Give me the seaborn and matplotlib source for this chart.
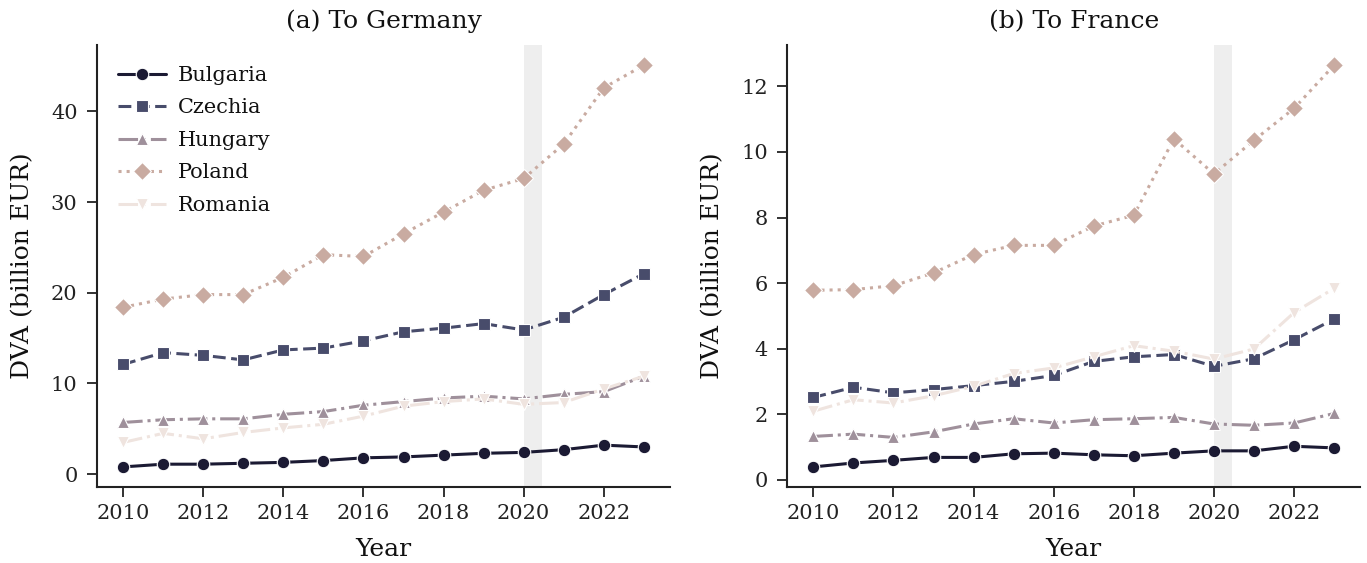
import numpy as np
import pandas as pd
import matplotlib
matplotlib.use("Agg")
import matplotlib.pyplot as plt
import seaborn as sns

years = list(range(2010, 2024))
countries = ["Bulgaria", "Czechia", "Hungary", "Poland", "Romania"]

# Domestic value added embodied in exports, billion EUR
de_bulgaria = [0.8, 1.1, 1.1, 1.2, 1.3, 1.5, 1.8, 1.9, 2.1, 2.3, 2.4, 2.7, 3.2, 3.0]
de_czechia = [12.1, 13.4, 13.1, 12.6, 13.7, 13.9, 14.7, 15.7, 16.1, 16.6, 15.9, 17.3, 19.8, 22.1]
de_hungary = [5.7, 6.0, 6.1, 6.1, 6.6, 6.9, 7.6, 8.0, 8.4, 8.6, 8.3, 8.8, 9.1, 10.8]
de_poland = [18.4, 19.3, 19.8, 19.8, 21.7, 24.2, 24.0, 26.5, 28.9, 31.3, 32.6, 36.4, 42.6, 45.1]
de_romania = [3.5, 4.5, 3.9, 4.6, 5.1, 5.5, 6.4, 7.5, 8.0, 8.3, 7.7, 7.9, 9.4, 10.8]

fr_bulgaria = [0.39, 0.51, 0.59, 0.68, 0.68, 0.79, 0.81, 0.76, 0.73, 0.81, 0.88, 0.88, 1.02, 0.97]
fr_czechia = [2.51, 2.82, 2.65, 2.75, 2.87, 3.00, 3.18, 3.61, 3.75, 3.82, 3.46, 3.69, 4.27, 4.90]
fr_hungary = [1.32, 1.39, 1.29, 1.46, 1.70, 1.86, 1.73, 1.83, 1.86, 1.90, 1.70, 1.66, 1.73, 2.02]
fr_poland = [5.78, 5.80, 5.92, 6.31, 6.87, 7.15, 7.15, 7.74, 8.07, 10.40, 9.33, 10.36, 11.33, 12.65]
fr_romania = [2.09, 2.44, 2.34, 2.56, 2.85, 3.24, 3.41, 3.75, 4.09, 3.92, 3.68, 3.99, 5.10, 5.84]

panel_titles = ["(a) To Germany", "(b) To France"]
xtick_values = [2010, 2012, 2014, 2016, 2018, 2020, 2022]


def to_long(series):
    frames = []
    for name, vals in zip(countries, series):
        frames.append(pd.DataFrame({"Year": years, "DVA": vals, "Country": name}))
    return pd.concat(frames, ignore_index=True)


df_de = to_long([de_bulgaria, de_czechia, de_hungary, de_poland, de_romania])
df_fr = to_long([fr_bulgaria, fr_czechia, fr_hungary, fr_poland, fr_romania])

sns.set_theme(style="ticks")
plt.rcParams["font.family"] = ["DejaVu Serif"]
plt.rcParams.update({
    "text.color": "#111111",
    "axes.labelcolor": "#111111",
    "xtick.color": "#222222",
    "ytick.color": "#222222",
    "axes.edgecolor": "#222222",
})

palette = {
    "Bulgaria": "#1b1a33",
    "Czechia": "#484c6b",
    "Hungary": "#9f909b",
    "Poland": "#c9aba1",
    "Romania": "#efe4df",
}
markers = {"Bulgaria": "o", "Czechia": "s", "Hungary": "^", "Poland": "D", "Romania": "v"}
dashes = {
    "Bulgaria": "",
    "Czechia": (4.2, 1.8),
    "Hungary": (6.4, 1.6, 1, 1.6),
    "Poland": (1, 1.65),
    "Romania": (6.4, 1.6, 1, 1.6),
}

fig, axes = plt.subplots(1, 2, figsize=(13.67, 5.63), dpi=100)

for ax, df, title, show_legend in zip(axes, [df_de, df_fr], panel_titles, [True, False]):
    ax.axvspan(2020, 2020.45, color="#eeeeee", lw=0, zorder=0)
    sns.lineplot(
        data=df, x="Year", y="DVA", hue="Country", style="Country",
        palette=palette, markers=markers, dashes=dashes,
        linewidth=2.2, markersize=9, markeredgewidth=0.8, markeredgecolor="white",
        ax=ax, legend=show_legend,
    )
    ax.set_title(title, fontsize=18, pad=12)
    ax.set_xlabel("Year", fontsize=18, labelpad=11)
    ax.set_ylabel("DVA (billion EUR)", fontsize=18, labelpad=12)
    ax.set_xticks(xtick_values)
    ax.tick_params(labelsize=15, width=1.3, length=7)
    ax.tick_params(axis="y", pad=7)
    ax.tick_params(axis="x", pad=5)
    for sp in ["left", "bottom"]:
        ax.spines[sp].set_linewidth(1.5)
    sns.despine(ax=ax)

axes[0].set_yticks([0, 10, 20, 30, 40])
axes[1].set_yticks([0, 2, 4, 6, 8, 10, 12])

leg = axes[0].legend(loc="upper left", frameon=False, fontsize=15,
                     handlelength=2.3, handletextpad=0.6, labelspacing=0.65,
                     borderaxespad=0.6)

fig.subplots_adjust(left=0.071, right=0.995, bottom=0.135, top=0.92, wspace=0.205)
fig.savefig("out.png", dpi=100)
